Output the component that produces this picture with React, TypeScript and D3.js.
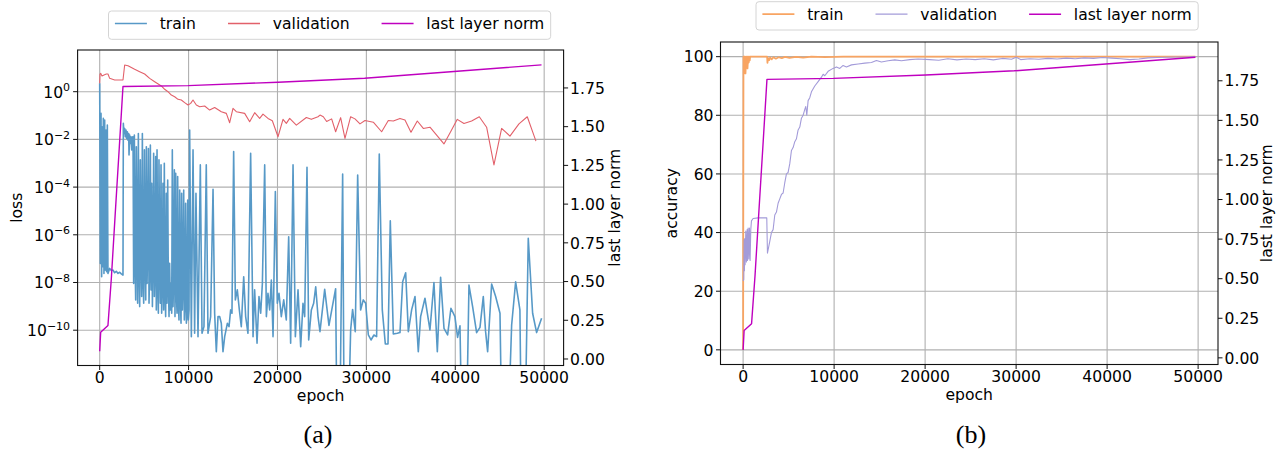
import * as d3 from "d3";

const WIDTH = 1288;
const HEIGHT = 453;
const FONT = "DejaVu Sans, sans-serif";
const FS = 15.6;

const xTicks = [0, 10000, 20000, 30000, 40000, 50000];
const lossTickExps = [0, -2, -4, -6, -8, -10];
const accTicks = [0, 20, 40, 60, 80, 100];
const normTicks = [0, 0.25, 0.5, 0.75, 1, 1.25, 1.5, 1.75];

// [epoch, log10(loss)], null = loss exactly 0 (clipped below the axes like matplotlib)
const trainLoss: [number, number | null][] = [
  [0, 0.35], [70, -7.2], [150, -0.91], [220, -7.76], [260, -1.47], [330, -7.34], [410, -1.12], [480, -7.62],
  [560, -1.19], [630, -7.48], [710, -1.61], [780, -7.55], [860, -1.4], [930, -7.62],
  [1120, -7.41], [1310, -7.5], [1500, -7.48], [1680, -7.59], [1870, -7.53], [2060, -7.62], [2250, -7.57],
  [2430, -7.64], [2620, -7.69],
  [2660, -1.33], [2730, -1.75], [2810, -1.54], [2880, -1.89], [2960, -1.61], [3030, -1.96], [3110, -1.68],
  [3180, -2.03], [3260, -1.75], [3300, -2.65], [3370, -1.82], [3450, -2.17], [3520, -1.89], [3600, -2.44],
  [3670, -1.91],
  [3750, -1.89], [3820, -8.04], [3900, -1.82], [3970, -6.92], [4050, -8.73], [4120, -2.31], [4200, -6.36],
  [4270, -8.87], [4350, -1.75], [4420, -7.34], [4500, -9.01], [4570, -2.86], [4650, -6.64], [4720, -8.59],
  [4800, -1.75], [4870, -7.76], [4950, -8.87], [5030, -2.44], [5100, -6.92], [5180, -8.73], [5250, -2.31],
  [5330, -8.04], [5400, -6.36], [5480, -2.38], [5550, -8.87], [5630, -7.2], [5700, -2.24], [5780, -8.31],
  [5850, -3.84], [5930, -9.01], [6000, -6.64], [6070, -2.58], [6150, -8.59], [6220, -7.48], [6300, -2.72],
  [6370, -9.15], [6450, -2.44], [6520, -8.04], [6600, -9.29], [6670, -2.86], [6750, -7.34], [6820, -8.87],
  [6900, -3.07], [6970, -9.29], [7050, -8.04], [7120, -3.84], [7200, -9.15], [7270, -3.0], [7350, -8.31],
  [7420, -9.43], [7500, -4.26], [7570, -8.87], [7650, -3.7], [7720, -7.9], [7800, -9.43], [7870, -7.2],
  [7950, -9.15], [8020, -8.04], [8100, -9.29], [8170, -2.44], [8250, -9.01], [8320, -7.76], [8400, -3.28],
  [8470, -9.43], [8550, -3.42], [8620, -8.31], [8700, -9.29], [8770, -3.56], [8850, -8.87], [8920, -9.57],
  [9000, -4.12], [9070, -8.59], [9150, -9.71], [9220, -4.26], [9300, -9.15], [9370, -8.04], [9450, -4.12],
  [9520, -9.57], [9600, -8.87], [9670, -4.68], [9750, -9.71], [9820, -9.29], [9900, -4.54], [9970, -9.57],
  [10050, -9.15],
  [10120, -1.61], [10310, -10.27], [10500, -2.44], [10680, -10.13], [10830, -4.26], [11060, -10.27],
  [11320, -3.07], [11510, -10.13], [11730, -9.85], [11990, -3.07], [12180, -10.13], [12480, -9.43],
  [12750, -4.09], [12930, -9.29], [13120, -10.9], [13310, -9.43], [13500, -9.43], [13680, -9.71],
  [13870, -10.9], [14060, -10.27], [14360, -9.71], [14550, -9.85], [14730, -9.15], [14880, -9.29],
  [15070, -2.51], [15260, -8.73], [15480, -8.31], [15710, -9.15], [15930, -9.85], [16200, -7.76],
  [16420, -9.43], [16680, -10.13], [16980, -2.58], [17250, -10.27], [17430, -8.31], [17700, -10.55],
  [17920, -8.59], [18110, -9.29], [18300, -8.04], [18560, -3.07], [18750, -9.43], [18930, -8.45],
  [19120, -9.15], [19310, -7.9], [19500, -10.27], [19760, -4.19], [19980, -8.87], [20170, -8.45],
  [20430, -9.43], [20700, -8.73], [20990, -9.57], [21260, -6.08], [21480, -10.55], [21750, -3.07],
  [22010, -10.27], [22310, -8.31], [22610, -10.69], [22870, -8.87], [23060, -9.43], [23320, -3.17],
  [23510, -10.41], [23810, -9.15], [24070, -8.87], [24300, -8.18], [24560, -9.43],
  [24780, -10.06], [25310, -8.29], [25790, -9.8], [26540, -8.26], [26840, null], [27330, -3.45],
  [27590, null], [28230, -9.99], [28450, -9.13], [28750, -10.06], [29020, -3.49], [29350, -9.15],
  [29650, -8.73], [29920, -8.87], [30220, -10.2], [30520, -10.41], [30850, -10.2], [31150, -10.27],
  [31450, -2.61], [31790, -9.15], [32130, -10.58], [32430, -10.58], [32690, -5.41], [33030, -10.16],
  [33480, -10.13], [33780, -10.1], [34080, -7.97], [34420, -7.59], [34720, -10.06], [35090, -9.15],
  [35470, -8.59], [35840, -10.9], [36100, -9.43], [36590, -8.66], [37150, -9.99], [37600, -8.0],
  [37980, -10.9], [38350, -7.78], [38730, -9.92], [39140, -10.2], [39510, -9.08], [39960, -9.43],
  [40260, -10.3], [40530, -9.82], [41000, null], [41540, -8.11], [41950, -9.01], [42400, -10.1],
  [42780, -9.88], [43150, -8.59], [43410, -10.06], [43640, -10.9], [44090, -8.06], [44540, -8.59],
  [45030, -9.29], [45450, null], [46340, -9.78], [46790, -7.97], [47270, -9.15], [47600, null],
  [48210, -6.15], [48700, -9.29], [49150, -10.1], [49710, -9.5],
];

// [epoch, log10(loss)]
const valLoss: [number, number][] = [
  [0, 0.35], [34, 0.74], [109, 0.77], [259, 0.66], [484, 0.7], [746, 0.74], [934, 0.74], [1121, 0.56],
  [1684, 0.49], [2246, 0.49], [2621, 0.49], [2809, 1.12], [3184, 1.09], [3934, 0.94], [4496, 0.84],
  [5059, 0.74], [5621, 0.56], [6184, 0.42], [6934, 0.24], [7309, 0.1], [7684, 0.0], [8059, -0.14],
  [8434, -0.21], [8809, -0.32], [9184, -0.35], [9559, -0.46], [9934, -0.56], [10234, -0.49], [10496, -0.35],
  [10871, -0.56], [11246, -0.63], [11809, -0.6], [12371, -0.77], [12934, -0.66], [13684, -0.84],
  [14246, -0.91], [14621, -1.3], [14996, -0.7], [15371, -0.84], [16309, -0.91], [16871, -1.26],
  [17434, -0.88], [17996, -1.12], [18371, -0.94], [18934, -1.12], [19421, -1.22], [20059, -1.89],
  [20621, -1.16], [20996, -1.33], [21371, -1.12], [22121, -1.4], [23246, -1.08], [23809, -1.16],
  [24559, -1.05], [24781, -0.98], [25156, -1.05], [25531, -1.25], [26093, -1.14], [26543, -1.68],
  [27105, -1.09], [27593, -1.96], [28230, -1.05], [28717, -1.14], [29280, -1.35], [29842, -1.21],
  [30779, -1.28], [31717, -1.68], [32466, -1.21], [33029, -1.23], [33779, -1.12], [34341, -1.19],
  [35016, -1.7], [35728, -1.23], [36403, -1.54], [37153, -1.49], [37903, -1.82], [38727, -2.19],
  [39477, -1.68], [40227, -1.16], [40977, -1.33], [41839, -1.23], [42701, -1.05], [43526, -1.49],
  [44351, -3.07], [45213, -1.54], [46150, -1.86], [47163, -1.35], [48100, -1.05], [49075, -2.07],
];

// [epoch, norm]
const lastLayerNorm: [number, number][] = [
  [0, 0.05], [110, 0.173], [930, 0.216], [1310, 0.52], [1760, 0.95], [2210, 1.37], [2620, 1.759],
  [9930, 1.765], [20060, 1.787], [29800, 1.813], [39850, 1.856], [49700, 1.899],
];

// [epoch, accuracy %]
const trainAcc: [number, number][] = [
  [0, 0], [40, 100], [75, 94.3], [110, 100], [150, 97.2], [185, 100], [260, 94.3], [330, 100], [400, 98.3],
  [440, 100], [480, 96], [550, 100], [620, 98], [660, 100], [730, 98.7], [770, 100], [2640, 100],
  [2674, 97.9], [2750, 99.5], [2860, 98.8], [2970, 99.7], [3150, 99.1], [3330, 99.8], [3600, 99.3],
  [3900, 99.8], [4250, 99.5], [4600, 99.9], [5100, 99.6], [5800, 99.9], [6600, 99.7], [7500, 100],
  [9000, 99.85], [11000, 100], [49700, 100],
];

const valAcc: [number, number][] = [
  [0, 23.5], [73, 24], [110, 37.5], [147, 27], [183, 38], [220, 29], [293, 40.5], [366, 30], [440, 41],
  [476, 30.5], [549, 41.5], [623, 31], [696, 41.5], [769, 30.5], [842, 41], [916, 44], [1099, 44.8],
  [1648, 45], [2600, 45], [2674, 33], [2930, 37], [3113, 40], [3297, 41], [3480, 46], [3663, 47],
  [3846, 50], [4029, 51.5], [4212, 53], [4396, 53.5], [4579, 57], [4762, 60], [4945, 60.5], [5128, 63.5],
  [5311, 68], [5495, 69], [5678, 71], [5861, 72], [6044, 75], [6227, 76], [6410, 79], [6593, 80],
  [6777, 82], [6887, 83], [6997, 80], [7143, 85], [7326, 86], [7509, 88], [7875, 90], [8242, 91.5],
  [8608, 93], [8791, 94], [8974, 93.5], [9341, 95], [9890, 96], [10256, 96.5], [10622, 96], [10989, 97],
  [11355, 96.5], [11905, 97.2], [12637, 97.5], [13370, 97.8], [14103, 98], [14652, 98.7], [15201, 98.2],
  [15934, 98.6], [16667, 98.9], [17399, 98.6], [18315, 99], [19231, 99.2], [20500, 99], [21500, 98.8],
  [22500, 99.3], [23500, 98.9], [24500, 99.2], [25500, 99], [26500, 99.3], [27500, 98.9], [28500, 99.4],
  [29500, 99.1], [30000, 99.8], [30500, 99], [31500, 99.3], [32500, 99.1], [33500, 99.4], [34500, 99.2],
  [35500, 99.5], [36500, 99.3], [37500, 99.6], [38500, 99.4], [39500, 99.7], [40500, 99.5], [41500, 99.3],
  [42500, 99], [43500, 99.2], [44500, 99.6], [45500, 99.7], [46500, 99.8], [47500, 99.9], [48500, 99.9],
  [49700, 100],
];

const C = {
  train: "#5799c7",
  val: "#e2606a",
  norm: "#bf00bf",
  trainAcc: "#f8a462",
  valAcc: "#a39bd9",
  grid: "#b0b0b0",
};

const ctx = document.createElement("canvas").getContext("2d");
function textWidth(s: string) {
  if (!ctx) return s.length * FS * 0.55;
  ctx.font = `${FS}px DejaVu Sans`;
  return ctx.measureText(s).width;
}

type Item = { label: string; color: string; width: number };

function Legend({ x, y, items }: { x: number; y: number; items: Item[] }) {
  const pad = 6.4, handle = 32, gap = 12.8, col = 32, h = 28.3;
  let cx = x + pad;
  const placed = items.map((it) => {
    const w = textWidth(it.label);
    const p = { ...it, hx: cx, tx: cx + handle + gap };
    cx += handle + gap + w + col;
    return p;
  });
  const w = cx - col + pad - x;
  return (
    <g>
      <rect x={x} y={y} width={w} height={h} rx={3} fill="white" fillOpacity={0.85} stroke="#d4d4d4" />
      {placed.map((p) => (
        <g key={p.label}>
          <line x1={p.hx} x2={p.hx + handle} y1={y + 12.5} y2={y + 12.5} stroke={p.color} strokeWidth={p.width} />
          <text x={p.tx} y={y + 18.3} fontSize={FS}>{p.label}</text>
        </g>
      ))}
    </g>
  );
}

type Box = { L: number; R: number; T: number; B: number };

function Frame({ box, x, yR, id, children }: any) {
  const { L, R, T, B } = box;
  return (
    <g>
      {xTicks.map((t) => (
        <line key={t} x1={x(t)} x2={x(t)} y1={T} y2={B} stroke={C.grid} strokeWidth={1.1} />
      ))}
      {children}
      <rect x={L} y={T} width={R - L} height={B - T} fill="none" stroke="#111" strokeWidth={1.1} />
      {xTicks.map((t) => (
        <g key={t}>
          <line x1={x(t)} x2={x(t)} y1={B} y2={B + 4.5} stroke="#111" />
          <text x={x(t)} y={B + 17.7} textAnchor="middle" fontSize={FS}>{t}</text>
        </g>
      ))}
      <text x={(L + R) / 2} y={B + 35.4} textAnchor="middle" fontSize={FS}>epoch</text>
      {normTicks.map((t) => (
        <g key={t}>
          <line x1={R} x2={R + 4.5} y1={yR(t)} y2={yR(t)} stroke="#111" />
          <text x={R + 6.5} y={yR(t) + 5.7} fontSize={FS}>{t.toFixed(2)}</text>
        </g>
      ))}
      <clipPath id={id}>
        <rect x={L} y={T} width={R - L} height={B - T} />
      </clipPath>
    </g>
  );
}

export default function App() {
  // panel (a): loss
  const A: Box = { L: 77.6, R: 563.6, T: 50, B: 365.5 };
  const xa = d3.scaleLinear().domain([-2485, 52185]).range([A.L, A.R]);
  const ya = d3.scaleLog().domain([10 ** -11.48, 10 ** 1.748]).range([A.B, A.T]);
  const yaR = d3.scaleLinear().domain([-0.042, 1.995]).range([A.B, A.T]);

  // panel (b): accuracy
  const Bx: Box = { L: 720.5, R: 1218, T: 42, B: 364.5 };
  const xb = d3.scaleLinear().domain([-2485, 52185]).range([Bx.L, Bx.R]);
  const yb = d3.scaleLinear().domain([-5, 105]).range([Bx.B, Bx.T]);
  const ybR = d3.scaleLinear().domain([-0.042, 1.995]).range([Bx.B, Bx.T]);

  const lossLine = d3
    .line<[number, number | null]>()
    .x((d) => xa(d[0]))
    .y((d) => (d[1] == null ? A.B + 200 : ya(10 ** d[1])));
  const normLineA = d3.line<[number, number]>().x((d) => xa(d[0])).y((d) => yaR(d[1]));
  const accLine = d3.line<[number, number]>().x((d) => xb(d[0])).y((d) => yb(d[1]));
  const normLineB = d3.line<[number, number]>().x((d) => xb(d[0])).y((d) => ybR(d[1]));

  return (
    <svg
      width={WIDTH}
      height={HEIGHT}
      viewBox={`0 0 ${WIDTH} ${HEIGHT}`}
      style={{ position: "fixed", left: 0, top: 0, background: "white" }}
      fontFamily={FONT}
      fill="#000"
    >
      <rect width={WIDTH} height={HEIGHT} fill="white" />

      {/* (a) */}
      <Frame box={A} x={xa} yR={yaR} id="clipA">
        {lossTickExps.map((e) => (
          <line key={e} x1={A.L} x2={A.R} y1={ya(10 ** e)} y2={ya(10 ** e)} stroke={C.grid} strokeWidth={1.1} />
        ))}
        <g clipPath="url(#clipA)" fill="none" strokeLinejoin="round">
          <path d={lossLine(trainLoss) ?? ""} stroke={C.train} strokeWidth={1.6} />
          <path d={lossLine(valLoss) ?? ""} stroke={C.val} strokeWidth={1.1} />
          <path d={normLineA(lastLayerNorm) ?? ""} stroke={C.norm} strokeWidth={1.4} />
        </g>
      </Frame>
      {lossTickExps.map((e) => (
        <g key={e}>
          <line x1={A.L - 4.5} x2={A.L} y1={ya(10 ** e)} y2={ya(10 ** e)} stroke="#111" />
          <text x={A.L - 7.5} y={ya(10 ** e) + 6} textAnchor="end" fontSize={FS}>
            <tspan>10</tspan>
            <tspan dy={-6.5} fontSize={11}>{e === 0 ? "0" : `\u2212${-e}`}</tspan>
          </text>
        </g>
      ))}
      <text transform={`translate(22.3,${(A.T + A.B) / 2}) rotate(-90)`} textAnchor="middle" fontSize={FS}>loss</text>
      <text transform={`translate(619.6,${(A.T + A.B) / 2}) rotate(-90)`} textAnchor="middle" fontSize={FS}>last layer norm</text>
      <Legend
        x={108.5}
        y={11}
        items={[
          { label: "train", color: C.train, width: 1.6 },
          { label: "validation", color: C.val, width: 1.3 },
          { label: "last layer norm", color: C.norm, width: 1.4 },
        ]}
      />
      <text x={318} y={442.7} textAnchor="middle" fontFamily="'Liberation Serif', serif" fontSize={26}>(a)</text>

      {/* (b) */}
      <Frame box={Bx} x={xb} yR={ybR} id="clipB">
        {accTicks.map((t) => (
          <line key={t} x1={Bx.L} x2={Bx.R} y1={yb(t)} y2={yb(t)} stroke={C.grid} strokeWidth={1.1} />
        ))}
        <g clipPath="url(#clipB)" fill="none" strokeLinejoin="round">
          <path d={accLine(trainAcc) ?? ""} stroke={C.trainAcc} strokeWidth={1.8} />
          <path d={accLine(valAcc) ?? ""} stroke={C.valAcc} strokeWidth={1.1} />
          <path d={normLineB(lastLayerNorm) ?? ""} stroke={C.norm} strokeWidth={1.4} />
        </g>
      </Frame>
      {accTicks.map((t) => (
        <g key={t}>
          <line x1={Bx.L - 4.5} x2={Bx.L} y1={yb(t)} y2={yb(t)} stroke="#111" />
          <text x={Bx.L - 7} y={yb(t) + 5.7} textAnchor="end" fontSize={FS}>{t}</text>
        </g>
      ))}
      <text transform={`translate(676.5,${(Bx.T + Bx.B) / 2}) rotate(-90)`} textAnchor="middle" fontSize={FS}>accuracy</text>
      <text transform={`translate(1272,${(Bx.T + Bx.B) / 2}) rotate(-90)`} textAnchor="middle" fontSize={FS}>last layer norm</text>
      <Legend
        x={756}
        y={1.7}
        items={[
          { label: "train", color: C.trainAcc, width: 1.8 },
          { label: "validation", color: C.valAcc, width: 1.3 },
          { label: "last layer norm", color: C.norm, width: 1.4 },
        ]}
      />
      <text x={971} y={442.7} textAnchor="middle" fontFamily="'Liberation Serif', serif" fontSize={26}>(b)</text>
    </svg>
  );
}
